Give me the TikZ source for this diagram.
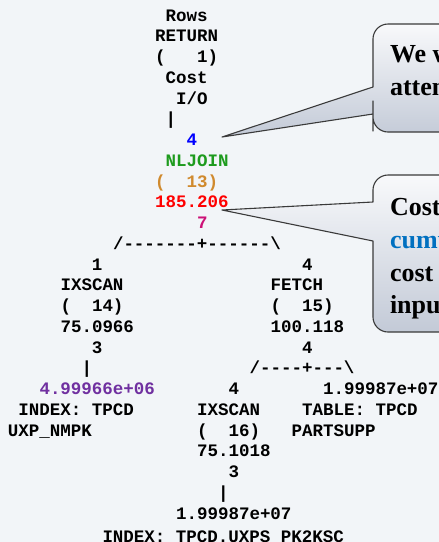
\documentclass[tikz,border=0pt]{standalone}
\usepackage{fontspec}
\usepackage{graphicx}
\newfontfamily\planfont{Liberation Mono}
\newfontfamily\notefont{Liberation Serif}

\definecolor{pagebg}{HTML}{F2F5F8}
\definecolor{rowsblue}{HTML}{0000FF}
\definecolor{opgreen}{HTML}{1E9B1E}
\definecolor{idorange}{HTML}{D08A2E}
\definecolor{costred}{HTML}{FF0000}
\definecolor{iomagenta}{HTML}{CC1177}
\definecolor{cardpurple}{HTML}{7030A0}
\definecolor{noteblue}{HTML}{0070C0}
\definecolor{noteedge}{HTML}{3A3A3A}
\definecolor{notetop}{HTML}{F8F9FB}
\definecolor{notebottom}{HTML}{C3CAD7}

% one text line of the access plan, placed on a character grid
\newcommand\planline[5][]{%
  \node[plan,#1] (#2) at ({155+10.5*(#3)},{21+20.76*(#4)}) {#5};}
\newcommand\planbar{|}

\tikzset{
  plan/.style={anchor=base west, inner sep=0pt, outer sep=0pt,
    font=\planfont\bfseries\fontsize{17.5}{20}\selectfont},
  note/.style={anchor=base west, inner sep=0pt, outer sep=0pt,
    font=\notefont\bfseries\fontsize{26}{30}\selectfont},
  callout/.style={draw=noteedge, line width=1.1pt, line join=round,
    top color=notetop, bottom color=notebottom},
}

\begin{document}
\begin{tikzpicture}[x=1pt, y=-1pt]
\useasboundingbox (0,0) rectangle (439,542);
\fill[pagebg] (0,0) rectangle (439,542);
\clip (0,0) rectangle (439,542);

% ---- access plan graph ----
\planline{rows}{1}{0}{Rows}
\planline{ret}{0}{1}{RETURN}
\planline{retid}{0}{2}{(~~~1)}
\planline{costhd}{1}{3}{Cost}
\planline{iohd}{2}{4}{I/O}
\planline{bartop}{1}{5}{\planbar}
\planline[text=rowsblue]{jrows}{3}{6}{4}
\planline[text=opgreen]{join}{1}{7}{NLJOIN}
\planline[text=idorange]{joinid}{0}{8}{(~~13)}
\planline[text=costred]{joincost}{0}{9}{185.206}
\planline[text=iomagenta]{joinio}{4}{10}{7}
\planline{split1}{-4}{11}{/-------+------\textbackslash}

\planline{lrows}{-6}{12}{1}
\planline{lop}{-9}{13}{IXSCAN}
\planline{lid}{-9}{14}{(~~14)}
\planline{lcost}{-9}{15}{75.0966}
\planline{lio}{-6}{16}{3}
\planline{lbar}{-7}{17}{\planbar}
\planline[text=cardpurple]{lcard}{-11}{18}{4.99966e+06}
\planline{lobj}{-13}{19}{INDEX:~TPCD}
\planline{lobjb}{-14}{20}{UXP\_NMPK}

\planline{rrows}{14}{12}{4}
\planline{rop}{11}{13}{FETCH}
\planline{rid}{11}{14}{(~~15)}
\planline{rcost}{11}{15}{100.118}
\planline{rio}{14}{16}{4}
\planline{split2}{9}{17}{/----+---\textbackslash}

\planline{srows}{7}{18}{4}
\planline{sop}{4}{19}{IXSCAN}
\planline{sid}{4}{20}{(~~16)}
\planline{scost}{4}{21}{75.1018}
\planline{sio}{7}{22}{3}
\planline{sbar}{6}{23}{\planbar}
\planline{scard}{2}{24}{1.99987e+07}
\planline{sobj}{-5}{25.1}{INDEX:~TPCD.UXPS\_PK2KSC}

\planline{tcard}{16}{18}{1.99987e+07}
\planline{tobj}{14}{19}{TABLE:~TPCD}
\planline{tobjb}{13}{20}{PARTSUPP}

% ---- callouts ----
\coordinate (tipA) at (222,137);
\coordinate (tipB) at (222,210);

\draw[callout] (tipA) -- (373,87) -- (373,60)
  [rounded corners=15pt] -- (373,24) -- (480,24) -- (480,132) -- (373,132) -- (373,116)
  [sharp corners] -- (373,114) -- cycle;
\node[note] (noteA1) at (390,62) {We will};
\node[note] (noteA2) at (390,95) {attention};

\draw[callout] (tipB) -- (373,202) -- (373,195)
  [rounded corners=15pt] -- (373,175) -- (480,175) -- (480,332) -- (373,332) -- (373,300)
  [sharp corners] -- (373,241) -- cycle;
\node[note] (noteB1) at (390,215) {Cost is};
\node[note, text=noteblue] (noteB2) at (390,248) {cumulative};
\node[note] (noteB3) at (390,281) {cost of};
\node[note] (noteB4) at (390,313) {inputs};
\end{tikzpicture}
\end{document}
